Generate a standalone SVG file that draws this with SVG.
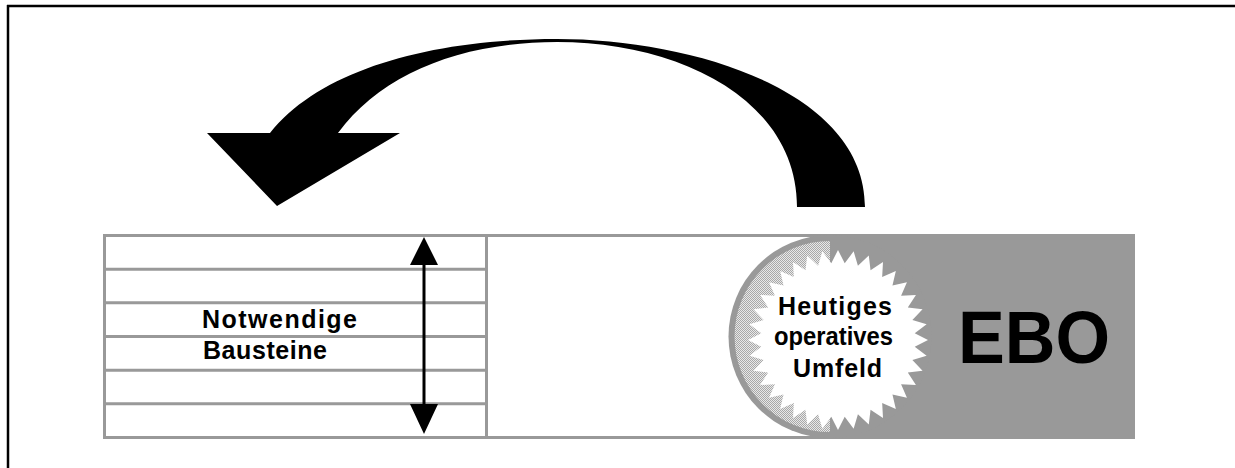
<svg xmlns="http://www.w3.org/2000/svg" width="1235" height="468" viewBox="0 0 1235 468">
<style>
.frame{stroke:#000;stroke-width:2.5;fill:none}
.gline{stroke:#999;stroke-width:3;fill:none}
.lbl{font-family:"Liberation Sans",Arial,sans-serif;font-weight:bold;fill:#000}
</style>
<defs>
<pattern id="dither" width="2" height="2" patternUnits="userSpaceOnUse">
<rect width="2" height="2" fill="#e8e8e8"/>
<rect x="0" y="0" width="1" height="1" fill="#a8a8a8"/>
<rect x="1" y="1" width="1" height="1" fill="#a8a8a8"/>
</pattern>
</defs>
<rect width="1235" height="468" fill="#fff"/>
<g id="frame">
<line class="frame" x1="7" y1="6" x2="1235" y2="6"/>
<line class="frame" x1="8" y1="5" x2="8" y2="468"/>
</g>
<g id="bar">
<rect x="104.5" y="235.5" width="1029" height="202" fill="#fff" class="gline"/>
</g>
<g id="bausteine">
<line class="gline" x1="104.5" y1="269.2" x2="486.5" y2="269.2"/>
<line class="gline" x1="104.5" y1="302.8" x2="486.5" y2="302.8"/>
<line class="gline" x1="104.5" y1="336.5" x2="486.5" y2="336.5"/>
<line class="gline" x1="104.5" y1="370.2" x2="486.5" y2="370.2"/>
<line class="gline" x1="104.5" y1="403.8" x2="486.5" y2="403.8"/>
<line class="gline" x1="486.5" y1="235.5" x2="486.5" y2="437.5"/>
<text class="lbl" x="202" y="328" font-size="25" textLength="155" lengthAdjust="spacing">Notwendige</text>
<text class="lbl" x="203" y="359" font-size="25" textLength="124" lengthAdjust="spacing">Bausteine</text>
</g>
<g id="ebo">
<rect x="830" y="234" width="305" height="205" fill="#999"/>
<circle cx="830" cy="336.5" r="101.5" fill="#999"/>
<path d="M830,241 A95.5,95.5 0 0,0 830,432 Z" fill="url(#dither)"/>
<polygon fill="#fff" transform="translate(838,340)" points="90,0 76.71,6.71 88.63,15.63 74.37,19.93 84.57,30.78 69.79,32.54 77.94,45 63.08,44.17 68.94,57.85 54.45,54.45 57.85,68.94 44.17,63.08 45,77.94 32.54,69.79 30.78,84.57 19.93,74.37 15.63,88.63 6.71,76.71 0,90 -6.71,76.71 -15.63,88.63 -19.93,74.37 -30.78,84.57 -32.54,69.79 -45,77.94 -44.17,63.08 -57.85,68.94 -54.45,54.45 -68.94,57.85 -63.08,44.17 -77.94,45 -69.79,32.54 -84.57,30.78 -74.37,19.93 -88.63,15.63 -76.71,6.71 -90,0 -76.71,-6.71 -88.63,-15.63 -74.37,-19.93 -84.57,-30.78 -69.79,-32.54 -77.94,-45 -63.08,-44.17 -68.94,-57.85 -54.45,-54.45 -57.85,-68.94 -44.17,-63.08 -45,-77.94 -32.54,-69.79 -30.78,-84.57 -19.93,-74.37 -15.63,-88.63 -6.71,-76.71 0,-90 6.71,-76.71 15.63,-88.63 19.93,-74.37 30.78,-84.57 32.54,-69.79 45,-77.94 44.17,-63.08 57.85,-68.94 54.45,-54.45 68.94,-57.85 63.08,-44.17 77.94,-45 69.79,-32.54 84.57,-30.78 74.37,-19.93 88.63,-15.63 76.71,-6.71"/>
<text class="lbl" x="778" y="315" font-size="25" textLength="114" lengthAdjust="spacing">Heutiges</text>
<text class="lbl" x="774" y="345" font-size="25" textLength="119" lengthAdjust="spacingAndGlyphs">operatives</text>
<text class="lbl" x="793" y="377" font-size="25" textLength="89" lengthAdjust="spacing">Umfeld</text>
<text class="lbl" x="958" y="363" font-size="74" textLength="152" lengthAdjust="spacingAndGlyphs">EBO</text>
</g>
<g id="connectors">
<path id="curved-arrow" fill="#000" d="M865,207 L797,207 C797,100 680,42 557,42 C462,42 382,73 338,133 L400,133 L277,206 L207,133 L270,133 C320,70 430,39 557,39 C690,39 865,90 865,207 Z"/>
<line x1="424" y1="250" x2="424" y2="420" stroke="#000" stroke-width="3"/>
<path d="M424,237 L438,265 L410,265 Z" fill="#000"/>
<path d="M424,434 L438,404 L410,404 Z" fill="#000"/>
</g>
</svg>
